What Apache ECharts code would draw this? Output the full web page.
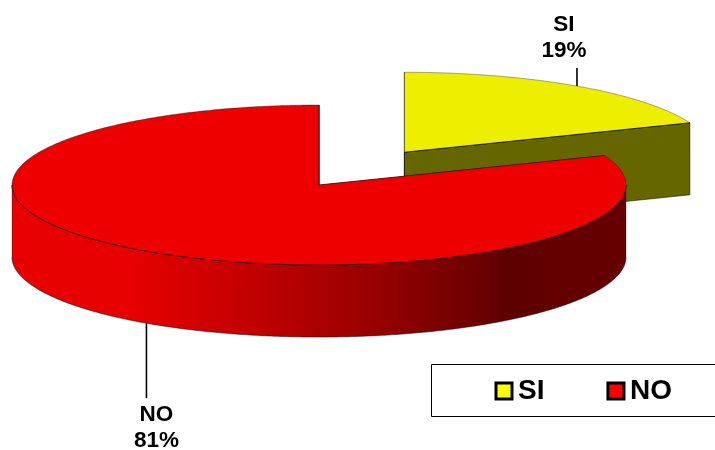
<!DOCTYPE html>
<html><head><meta charset="utf-8">
<style>html,body{margin:0;padding:0;background:#fff}#c{width:715px;height:450px}</style>
<script src="https://cdn.jsdelivr.net/npm/echarts@6/dist/echarts.min.js"></script>
</head><body><div id="c"></div>
<script>
const categories = ['SI', 'NO'];
const values = [19, 81];
const explode = [0.495, 0];
const topColors = ['#eeee00', '#ee0000'];
const sideColors = ['#666600', '#660000'];
const legendColors = ['#ffff00', '#ff0000'];

const total = values.reduce((a, b) => a + b, 0);
const CX = 319, CY = 185, RX = 307, RY = 80, DEPTH = 72, FONT = '"Liberation Sans", Arial, sans-serif';
const leaderUp = [18, 0], leaderDown = [0, 75];
const labelDX = [-13, 10], labelDY = [-48, 105];

function sliceAngles(i) {
  const before = values.slice(0, i).reduce((a, b) => a + b, 0);
  return [before / total * 2 * Math.PI, (before + values[i]) / total * 2 * Math.PI];
}
function renderSlice(i, api) {
  const v = api.value(0);
  const a0 = sliceAngles(i)[0], a1 = a0 + v / total * 2 * Math.PI, mid = (a0 + a1) / 2;
  const cx = CX + explode[i] * RX * Math.sin(mid), cy = CY - explode[i] * RY * Math.cos(mid);
  const pt = (t, d) => [cx + RX * Math.sin(t), cy - RY * Math.cos(t) + (d || 0)];
  const arc = (s, e, d) => {
    const out = [], n = Math.max(2, Math.ceil((e - s) / 0.01));
    for (let k = 0; k <= n; k++) out.push(pt(s + (e - s) * k / n, d));
    return out;
  };
  const kids = [];
  const strong = { stroke: 'rgba(0,0,0,0.85)', lineWidth: 0.9, fill: null };
  const soft = { stroke: 'rgba(0,0,0,0.4)', lineWidth: 0.8, fill: null };
  // cut faces
  [a0, a1].forEach(t => {
    const p = pt(t);
    kids.push({ type: 'polygon', shape: { points: [[cx, cy], p, [p[0], p[1] + DEPTH], [cx, cy + DEPTH]] },
      style: { fill: sideColors[i], stroke: 'rgba(0,0,0,0.7)', lineWidth: 0.8 } });
  });
  // front outer wall
  const ws = Math.max(a0, Math.PI / 2), we = Math.min(a1, 1.5 * Math.PI);
  if (we > ws) {
    const top = arc(ws, we, 0), bot = arc(ws, we, DEPTH);
    kids.push({ type: 'polygon', shape: { points: top.concat(bot.slice().reverse()) }, style: {
      fill: new echarts.graphic.LinearGradient(0, 0, 1, 0, [
        { offset: 0, color: '#e80000' }, { offset: 0.2, color: '#e60000' },
        { offset: 0.4, color: '#c00000' }, { offset: 0.6, color: '#960000' },
        { offset: 0.81, color: '#5e0000' }, { offset: 0.9, color: '#640000' }, { offset: 1, color: '#660000' }]),
      stroke: 'rgba(0,0,0,0.35)', lineWidth: 0.8 } });
    kids.push({ type: 'polyline', shape: { points: bot }, style: soft });
  }
  // top face, then its edges
  kids.push({ type: 'polygon', shape: { points: [[cx, cy]].concat(arc(a0, a1, 0)) },
    style: { fill: topColors[i] } });
  if (a0 < Math.PI / 2) kids.push({ type: 'polyline', shape: { points: arc(a0, Math.min(a1, Math.PI / 2), 0) }, style: soft });
  if (a1 > 1.5 * Math.PI) kids.push({ type: 'polyline', shape: { points: arc(Math.max(a0, 1.5 * Math.PI), a1, 0) }, style: soft });
  const p0 = pt(a0), p1 = pt(a1);
  kids.push({ type: 'polyline', shape: { points: [p0, [cx, cy]] }, style: soft });
  kids.push({ type: 'polyline', shape: { points: [[cx, cy], p1] }, style: strong });
  if (we > ws) kids.push({ type: 'polyline', shape: { points: arc(ws, we, 0) }, style: strong });
  // leader and label
  const m = pt(mid, Math.cos(mid) < 0 ? DEPTH : 0);
  kids.push({ type: 'line', shape: { x1: m[0], y1: m[1] - leaderUp[i], x2: m[0], y2: m[1] + leaderDown[i] },
    style: { stroke: '#000', lineWidth: 1.6 } });
  kids.push({ type: 'text', x: m[0] + labelDX[i], y: m[1] + labelDY[i], style: {
    text: categories[i] + '\n' + Math.round(v / total * 100) + '%', fill: '#000',
    font: 'bold 22.5px ' + FONT, lineHeight: 26, align: 'center', verticalAlign: 'middle' } });
  return { type: 'group', children: kids };
}

const chart = echarts.init(document.getElementById('c'), null, { renderer: 'canvas' });
chart.setOption({
  animation: false,
  backgroundColor: '#ffffff',
  graphic: [{ type: 'rect', z: 0, shape: { x: 431.5, y: 364.5, width: 320, height: 52 },
    style: { fill: '#fff', stroke: '#000', lineWidth: 1 } }],
  legend: {
    z: 10, left: 494.5, top: 377, padding: 0, itemGap: 62, itemWidth: 16, itemHeight: 16,
    icon: 'rect', selectedMode: false,
    textStyle: { fontFamily: FONT, fontWeight: 'bold', fontSize: 28, color: '#000', padding: [0, 0, 0, 1] },
    data: categories.map((n, i) => ({ name: n, itemStyle: { color: legendColors[i], borderColor: '#000', borderWidth: 3 } }))
  },
  series: categories.map((n, i) => ({
    type: 'custom', name: n, coordinateSystem: 'none', silent: true, z: 2 + i,
    data: [[values[i]]],
    itemStyle: { color: legendColors[i] },
    renderItem: (p, api) => renderSlice(i, api)
  }))
});
</script></body></html>
